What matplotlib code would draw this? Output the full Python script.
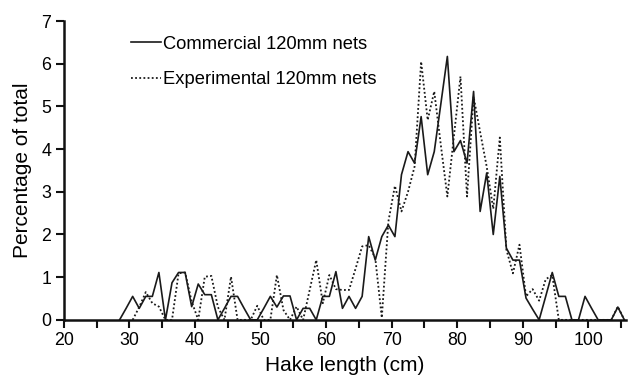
import matplotlib
matplotlib.use("Agg")
import matplotlib.pyplot as plt

plt.rcParams['font.family'] = ['Liberation Sans', 'DejaVu Sans']

# length classes (cm, bin midpoints)
comm_len = [28.5, 29.5, 30.5, 31.5, 32.5, 33.5, 34.5, 35.5, 36.5, 37.5, 38.5, 39.5,
            40.5, 41.5, 42.5, 43.5, 44.5, 45.5, 46.5, 47.5, 48.5, 49.5, 50.5, 51.5,
            52.5, 53.5, 54.5, 55.5, 56.5, 57.5, 58.5, 59.5, 60.5, 61.5, 62.5, 63.5,
            64.5, 65.5, 66.5, 67.5, 68.5, 69.5, 70.5, 71.5, 72.5, 73.5, 74.5, 75.5,
            76.5, 77.5, 78.5, 79.5, 80.5, 81.5, 82.5, 83.5, 84.5, 85.5, 86.5, 87.5,
            88.5, 89.5, 90.5, 91.5, 92.5, 93.5, 94.5, 95.5, 96.5, 97.5, 98.5, 99.5,
            100.5, 101.5, 102.5, 103.5, 104.5, 105.5]
comm_pct = [0, 0.27, 0.55, 0.27, 0.55, 0.55, 1.11, 0, 0.87, 1.11, 1.11, 0.31,
            0.84, 0.59, 0.59, 0, 0.27, 0.55, 0.55, 0.27, 0, 0, 0.27, 0.55,
            0.30, 0.56, 0.56, 0, 0.27, 0.27, 0, 0.55, 0.55, 1.13, 0.27, 0.55,
            0.27, 0.55, 1.95, 1.40, 1.95, 2.22, 1.95, 3.40, 3.94, 3.67, 4.76, 3.40,
            3.94, 5.05, 6.17, 3.94, 4.20, 3.67, 5.35, 2.54, 3.44, 2.00, 3.36, 1.68,
            1.40, 1.40, 0.51, 0.25, 0, 0.55, 1.11, 0.55, 0.55, 0, 0, 0.55,
            0.27, 0, 0, 0, 0.30, 0]

exp_len = [30.5, 31.5, 32.5, 33.5, 34.5, 35.5, 36.5, 37.5, 38.5, 39.5, 40.5, 41.5,
           42.5, 43.5, 44.5, 45.5, 46.5, 47.5, 48.5, 49.5, 50.5, 51.5, 52.5, 53.5,
           54.5, 55.5, 56.5, 57.5, 58.5, 59.5, 60.5, 61.5, 62.5, 63.5, 64.5, 65.5,
           66.5, 67.5, 68.5, 69.5, 70.5, 71.5, 72.5, 73.5, 74.5, 75.5, 76.5, 77.5,
           78.5, 79.5, 80.5, 81.5, 82.5, 83.5, 84.5, 85.5, 86.5, 87.5, 88.5, 89.5,
           90.5, 91.5, 92.5, 93.5, 94.5, 95.5, 96.5, 97.5, 98.5, 99.5, 100.5, 101.5,
           102.5, 103.5, 104.5, 105.5]
exp_pct = [0, 0.30, 0.65, 0.39, 0.31, 0, 0, 1.09, 1.11, 0.43, 0, 1.01,
           1.03, 0.30, 0, 1.01, 0, 0, 0, 0.33, 0, 0, 1.05, 0.23,
           0, 0.31, 0, 0.70, 1.40, 0.39, 1.05, 0.72, 0.70, 0.70, 1.20, 1.72,
           1.75, 1.45, 0.05, 2.30, 3.14, 2.54, 3.00, 3.59, 6.05, 4.68, 5.35, 4.10,
           2.89, 4.30, 5.70, 2.89, 5.23, 4.40, 3.59, 2.60, 4.27, 1.65, 1.09, 1.76,
           0.55, 0.72, 0.45, 0.95, 1.05, 0, 0, 0, 0, 0, 0, 0,
           0, 0, 0.31, 0]

fig = plt.figure(figsize=(6.32, 3.75), dpi=100)
ax = fig.add_axes([0.101, 0.147, 0.889, 0.797])

ax.plot(comm_len, comm_pct, color='#1a1a1a', lw=1.2, ls='-',
        label='Commercial 120mm nets', clip_on=False)
ax.plot(exp_len, exp_pct, color='#1a1a1a', lw=1.3, ls=(0, (1, 1.3)),
        label='Experimental 120mm nets', clip_on=False)

ax.set_xlim(20, 105.7)
ax.set_ylim(0, 7)
ax.set_xticks([20, 30, 40, 50, 60, 70, 80, 90, 100])
ax.set_xticks([25, 35, 45, 55, 65, 75, 85, 95, 105], minor=True)
ax.set_yticks(range(0, 8))

for s in ['top', 'right']:
    ax.spines[s].set_visible(False)
for s in ['left', 'bottom']:
    ax.spines[s].set_linewidth(1.8)
    ax.spines[s].set_color('#111111')

ax.tick_params(axis='both', which='both', direction='out', width=1.5, length=6,
               labelsize=12.8, color='#111111', pad=3)

ax.set_xlabel('Hake length (cm)', fontsize=15, labelpad=5)
ax.set_ylabel('Percentage of total', fontsize=15, labelpad=7)

ax.legend(loc='upper left', bbox_to_anchor=(0.208, 0.905), bbox_transform=fig.transFigure,
          frameon=False, fontsize=13.2, handlelength=1.6, handletextpad=0.1,
          labelspacing=1.02, borderpad=0, borderaxespad=0)

fig.savefig('out.png', dpi=100)
